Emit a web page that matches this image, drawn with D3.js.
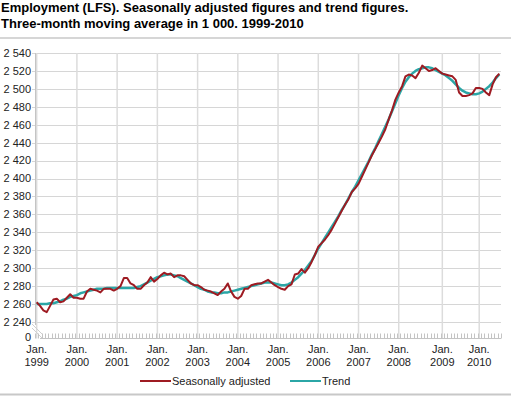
<!DOCTYPE html>
<html>
<head>
<meta charset="utf-8">
<script src="https://cdn.jsdelivr.net/npm/d3@7"></script>
<style>
  body { margin: 0; background: #fff; }
  svg { font-family: "Liberation Sans", Arial, sans-serif; display: block; }
</style>
</head>
<body>
<svg id="chart" width="511" height="396"></svg>
<script>
// Monthly values, Jan 1999 .. Jul 2010 (1 000 persons)
const seasonal = [
  2262, 2258, 2253, 2251, 2258, 2265, 2266, 2262, 2263, 2267, 2271, 2267,
  2267, 2266, 2266, 2274, 2277, 2276, 2275, 2273, 2277, 2277, 2277, 2275,
  2277, 2280, 2289, 2289, 2283, 2281, 2277, 2277, 2281, 2284, 2290, 2285,
  2288, 2292, 2295, 2293, 2294, 2290, 2292, 2292, 2291, 2287, 2283, 2281,
  2281, 2279, 2276, 2275, 2274, 2272, 2270, 2274, 2277, 2283, 2274, 2268,
  2266, 2269, 2277, 2277, 2281, 2282, 2283, 2283, 2285, 2287, 2284, 2281,
  2279, 2277, 2276, 2280, 2282, 2293, 2294, 2299, 2295, 2300, 2307, 2315,
  2324, 2328, 2332, 2337, 2343, 2350, 2357, 2364, 2371, 2377, 2385, 2389,
  2394, 2402, 2410, 2418, 2426, 2433, 2440, 2447, 2455, 2466, 2476, 2488,
  2496, 2503, 2514, 2516, 2515, 2512, 2518, 2526, 2523, 2520, 2521, 2523,
  2520, 2517, 2516, 2515, 2514, 2510, 2496, 2492, 2492, 2493, 2495, 2501,
  2501, 2500, 2496, 2493, 2505, 2513, 2517
];
const trend = [
  2260, 2260, 2260, 2260, 2261, 2261, 2262, 2263, 2265, 2266, 2268, 2269,
  2270, 2272, 2273, 2274, 2275, 2276, 2277, 2277, 2277, 2278, 2278, 2278,
  2278, 2278, 2278, 2278, 2278, 2278, 2279, 2280, 2282, 2284, 2286, 2288,
  2290, 2291, 2292, 2293, 2293, 2292, 2291, 2289, 2287, 2285, 2283, 2281,
  2279, 2277, 2276, 2274, 2273, 2273, 2272, 2272, 2273, 2273, 2274, 2275,
  2276, 2277, 2278, 2279, 2280, 2281, 2282, 2283, 2284, 2284, 2284, 2283,
  2282, 2281, 2281, 2282, 2284, 2287, 2290, 2294, 2298, 2303, 2308, 2315,
  2322, 2328, 2334, 2340, 2346, 2352, 2358, 2365, 2371, 2378, 2385, 2391,
  2398, 2405, 2412, 2419, 2427, 2434, 2442, 2450, 2458, 2466, 2475, 2484,
  2493, 2501, 2508, 2513, 2517, 2520, 2522, 2523, 2524, 2524, 2523, 2521,
  2519, 2517, 2515, 2512, 2509, 2505, 2501, 2498, 2496, 2495, 2494, 2494,
  2495, 2497, 2500, 2503, 2507, 2512, 2516
];

const yearLabels = ['1999', '2000', '2001', '2002', '2003', '2004', '2005', '2006', '2007', '2008', '2009', '2010'];
const yearTickIndex = [0, 12, 24, 36, 48, 60, 72, 84, 96, 108, 121, 132];
const yTicks = d3.range(2240, 2541, 20);

const titleLines = [
  'Employment (LFS). Seasonally adjusted figures and trend figures.',
  'Three-month moving average in 1 000. 1999-2010'
];
const series = [
  { name: 'Seasonally adjusted', values: seasonal, color: '#9e1b22', width: 2 },
  { name: 'Trend', values: trend, color: '#2ba6a6', width: 2.5 }
];

const svg = d3.select('#chart');
const plot = { left: 35, right: 501, top: 53, bottom: 322, base: 338.5 };
const n = seasonal.length;

const x = d3.scaleLinear().domain([-0.5, n - 0.5]).range([plot.left, plot.right]);
const y = d3.scaleLinear().domain([2240, 2540]).range([plot.bottom, plot.top]);

// title
svg.append('g').selectAll('text')
  .data(titleLines)
  .join('text')
  .attr('x', 1)
  .attr('y', (d, i) => 12 + i * 16)
  .attr('font-size', '13px')
  .attr('font-weight', 'bold')
  .attr('fill', '#000')
  .text(d => d);

svg.append('line')
  .attr('x1', 0).attr('x2', 511).attr('y1', 38).attr('y2', 38)
  .attr('stroke', '#c8c8c8').attr('stroke-width', 1.5);

// grid
svg.append('g').selectAll('line')
  .data(yTicks)
  .join('line')
  .attr('x1', plot.left - 3).attr('x2', plot.right)
  .attr('y1', d => Math.round(y(d)) + 0.5).attr('y2', d => Math.round(y(d)) + 0.5)
  .attr('stroke', '#d6d6d6').attr('stroke-width', 1.2);

svg.append('g').selectAll('line')
  .data(yearTickIndex)
  .join('line')
  .attr('x1', d => x(d)).attr('x2', d => x(d))
  .attr('y1', plot.top).attr('y2', plot.base)
  .attr('stroke', '#dcdcdc').attr('stroke-width', 1.5);

// y axis with break
svg.append('line')
  .attr('x1', plot.left + 0.5).attr('x2', plot.left + 0.5)
  .attr('y1', plot.top).attr('y2', plot.bottom + 3)
  .attr('stroke', '#c4c4c4');
[[32, 324, 42, 334], [32, 328, 42, 338]].forEach(([x1, y1, x2, y2]) => {
  svg.append('line')
    .attr('x1', x1).attr('y1', y1).attr('x2', x2).attr('y2', y2)
    .attr('stroke', '#cfcfcf').attr('stroke-width', 1);
});

// baseline (0) with monthly ticks
svg.append('line')
  .attr('x1', 40).attr('x2', plot.right)
  .attr('y1', plot.base).attr('y2', plot.base)
  .attr('stroke', '#c4c4c4');
svg.append('g').selectAll('line')
  .data(d3.range(n + 1))
  .join('line')
  .attr('x1', d => Math.round(x(d - 0.5)) + 0.5).attr('x2', d => Math.round(x(d - 0.5)) + 0.5)
  .attr('y1', plot.base - 5).attr('y2', plot.base)
  .attr('stroke', '#c4c4c4');

// y labels
svg.append('g').selectAll('text')
  .data(yTicks)
  .join('text')
  .attr('x', 31)
  .attr('y', d => y(d))
  .attr('dy', '0.35em')
  .attr('text-anchor', 'end')
  .attr('font-size', '11px')
  .attr('fill', '#222')
  .text(d => d3.format(',')(d).replace(',', ' '));
svg.append('text')
  .attr('x', 31).attr('y', plot.base).attr('dy', '0.2em')
  .attr('text-anchor', 'end').attr('font-size', '11px').attr('fill', '#222')
  .text('0');

// x labels
const xl = svg.append('g').selectAll('g')
  .data(yearTickIndex)
  .join('g')
  .attr('transform', d => `translate(${x(d)},0)`);
xl.append('text')
  .attr('y', 353).attr('text-anchor', 'middle')
  .attr('font-size', '11px').attr('fill', '#222')
  .text('Jan.');
xl.append('text')
  .attr('y', 366).attr('text-anchor', 'middle')
  .attr('font-size', '11px').attr('fill', '#222')
  .text((d, i) => yearLabels[i]);

// lines (trend under seasonally adjusted)
const line = d3.line().x((d, i) => x(i)).y(d => y(d));
[series[1], series[0]].forEach(s => {
  svg.append('path')
    .datum(s.values)
    .attr('d', line)
    .attr('fill', 'none')
    .attr('stroke', s.color)
    .attr('stroke-width', s.width)
    .attr('stroke-linejoin', 'round');
});

// legend
const legendX = [140, 290];
series.forEach((s, i) => {
  const g = svg.append('g').attr('transform', `translate(${legendX[i]},381)`);
  g.append('line').attr('x1', 0).attr('x2', 31).attr('stroke', s.color).attr('stroke-width', 2);
  g.append('text').attr('x', 32).attr('dy', '0.35em')
    .attr('font-size', '11px').attr('fill', '#222').text(s.name);
});

svg.append('line')
  .attr('x1', 0).attr('x2', 511).attr('y1', 394.5).attr('y2', 394.5)
  .attr('stroke', '#c8c8c8').attr('stroke-width', 2);
</script>
</body>
</html>
